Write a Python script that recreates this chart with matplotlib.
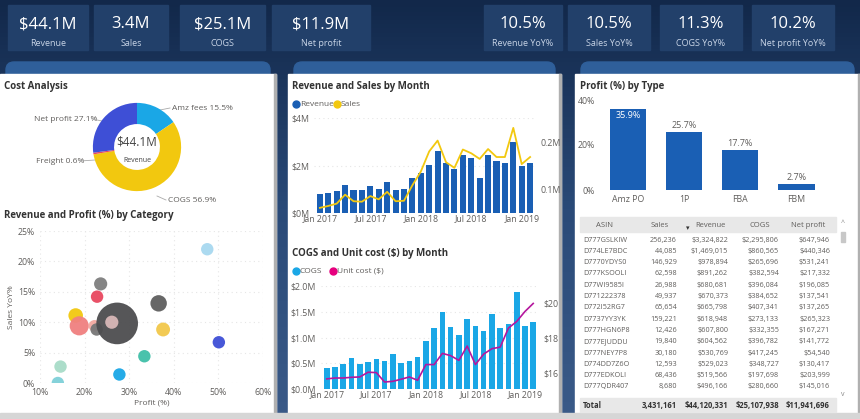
import matplotlib
matplotlib.use("Agg")
import matplotlib.pyplot as plt
import numpy as np
from matplotlib.patches import FancyBboxPatch, Rectangle

plt.rcParams["font.family"] = ["Open Sans", "DejaVu Sans"]

W, H = 860, 419

# ---- data ----
kpi_left = [("$44.1M", "Revenue"), ("3.4M", "Sales"), ("$25.1M", "COGS"), ("$11.9M", "Net profit")]
kpi_right = [("10.5%", "Revenue YoY%"), ("10.5%", "Sales YoY%"), ("11.3%", "COGS YoY%"), ("10.2%", "Net profit YoY%")]

cost_labels = ["Amz fees 15.5%", "COGS 56.9%", "Freight 0.6%", "Net profit 27.1%"]
cost_share = [15.5, 56.9, 0.6, 27.1]
cost_colors = ["#1aa7e6", "#f2c80f", "#e8475f", "#3e4fd6"]

bub_profit = [47.5, 23.6, 22.8, 36.6, 18.0, 18.8, 22.2, 22.7, 27.3, 26.1, 37.6, 50.1, 33.4, 14.6, 27.8, 14.0]
bub_yoy = [22.0, 16.3, 14.2, 13.1, 11.1, 9.4, 9.4, 8.8, 9.8, 10.0, 8.8, 6.7, 4.4, 2.7, 1.4, 0.0]
bub_size = [80, 90, 80, 140, 110, 190, 70, 80, 900, 90, 100, 80, 80, 80, 80, 80]
bub_colors = ["#a8d8f0", "#7f7f7f", "#e8475f", "#5f5f5f", "#f2c80f", "#f08080", "#f4a9a0", "#777777",
              "#4d4d4f", "#d9b8b8", "#f2c84b", "#3e4fd6", "#3fbfa8", "#a8dcc8", "#1aa7e6", "#7fd0d8"]

revenue_m = [0.79, 0.83, 0.93, 1.17, 0.95, 0.95, 1.12, 1.03, 1.29, 0.95, 0.99, 1.48, 1.70,
             2.04, 2.60, 2.11, 1.84, 2.45, 2.32, 1.47, 2.45, 2.21, 2.11, 3.00, 1.96, 2.11]
sales_k = [61, 65, 70, 89, 75, 74, 86, 79, 95, 75, 76, 109, 138,
           181, 204, 158, 146, 185, 177, 165, 186, 169, 169, 231, 154, 169]
cogs_m = [0.41, 0.43, 0.48, 0.61, 0.49, 0.52, 0.59, 0.55, 0.67, 0.50, 0.55, 0.63, 0.94,
          1.19, 1.50, 1.21, 1.05, 1.36, 1.22, 1.13, 1.46, 1.18, 1.27, 1.89, 1.22, 1.31]
unit_cost = [15.68, 15.73, 15.73, 15.77, 15.79, 16.06, 16.04, 15.50, 15.54, 15.66, 15.79, 15.60, 16.50,
             16.50, 17.14, 17.01, 16.74, 17.56, 16.50, 17.10, 17.41, 17.50, 18.59, 18.97, 19.54, 20.00]
month_ticks = [0, 6, 12, 18, 24]
month_labels = ["Jan 2017", "Jul 2017", "Jan 2018", "Jul 2018", "Jan 2019"]

types = ["Amz PO", "1P", "FBA", "FBM"]
type_profit = [35.9, 25.7, 17.7, 2.7]

tbl_cols = ["ASIN", "Sales", "Revenue", "COGS", "Net profit"]
tbl_rows = [
    ["D777GSLKIW", "256,236", "$3,324,822", "$2,295,806", "$647,946"],
    ["D774LE7BDC", "44,085", "$1,469,015", "$860,565", "$440,346"],
    ["D7770YDYS0", "146,929", "$978,894", "$265,696", "$531,241"],
    ["D777KSOOLI", "62,598", "$891,262", "$382,594", "$217,332"],
    ["D77WI9585I", "26,988", "$680,681", "$396,084", "$196,085"],
    ["D771222378", "49,937", "$670,373", "$384,652", "$137,541"],
    ["D772I52RG7", "65,654", "$665,798", "$407,341", "$137,265"],
    ["D7737YY3YK", "159,221", "$618,948", "$273,133", "$265,323"],
    ["D777HGN6P8", "12,426", "$607,800", "$332,355", "$167,271"],
    ["D777EJUDDU", "19,840", "$604,562", "$396,782", "$141,772"],
    ["D777NEY7P8", "30,180", "$530,769", "$417,245", "$54,540"],
    ["D774DD7Z6O", "12,593", "$529,023", "$348,727", "$130,417"],
    ["D777EDKOLI", "68,436", "$519,566", "$197,698", "$203,999"],
    ["D777QDR407", "8,680", "$496,166", "$280,660", "$145,016"],
]
tbl_total = ["Total", "3,431,161", "$44,120,331", "$25,107,938", "$11,941,696"]

TXT = "#605e5c"


def px_axes(fig, x, y, w, h, **kw):
    return fig.add_axes([x / W, 1 - (y + h) / H, w / W, h / H], **kw)


def clean(ax):
    for s in ax.spines.values():
        s.set_visible(False)
    ax.tick_params(length=0, labelsize=6.3, colors=TXT)


fig = plt.figure(figsize=(8.6, 4.19), dpi=100, facecolor="#1d3961")
bg = px_axes(fig, 0, 0, W, H)
bg.set_xlim(0, W)
bg.set_ylim(H, 0)
bg.axis("off")

# background gradient
grad = np.linspace(0, 1, 100).reshape(-1, 1)
bg.imshow(grad, extent=[0, W, H, 0], cmap=matplotlib.colors.LinearSegmentedColormap.from_list(
    "g", ["#12284a", "#2a4a78", "#3a5a88"]), aspect="auto", zorder=0)

# KPI tiles
for (x0, w), (val, lab) in zip([(8, 80), (94, 74), (180, 85), (272, 98)], kpi_left):
    bg.add_patch(Rectangle((x0, 5), w, 45, color="#22406a", zorder=1))
    bg.text(x0 + w / 2, 24, val, color="white", fontsize=12, ha="center", va="center", zorder=2)
    bg.text(x0 + w / 2, 44, lab, color="#c8d4e6", fontsize=6.5, ha="center", va="center", zorder=2)
for (x0, w), (val, lab) in zip([(484, 78), (568, 82), (660, 82), (752, 82)], kpi_right):
    bg.add_patch(Rectangle((x0, 5), w, 45, color="#22406a", zorder=1))
    bg.text(x0 + w / 2, 24, val, color="white", fontsize=12, ha="center", va="center", zorder=2)
    bg.text(x0 + w / 2, 44, lab, color="#c8d4e6", fontsize=6.5, ha="center", va="center", zorder=2)

# panels
for x0, w in [(0, 276), (288, 273), (575, 285)]:
    bg.add_patch(FancyBboxPatch((x0 + 6, 62), w - 12, 20, boxstyle="round,pad=0,rounding_size=8",
                                color="#2f5f9a", zorder=1))
    bg.add_patch(Rectangle((x0, 74), w, H - 74, color="white", zorder=2))
    bg.add_patch(Rectangle((x0 + w - 2, 74), 2, H - 74, color="#b0b0b0", zorder=2))
bg.add_patch(Rectangle((0, 413), W, 6, color="#d6d6d6", zorder=3))

bg.text(4, 86, "Cost Analysis", fontsize=7, fontweight="bold", color="#333", va="center", zorder=3)
bg.text(4, 215, "Revenue and Profit (%) by Category", fontsize=7, fontweight="bold", color="#333", va="center", zorder=3)
bg.text(292, 86, "Revenue and Sales by Month", fontsize=7, fontweight="bold", color="#333", va="center", zorder=3)
bg.text(292, 253, "COGS and Unit cost ($) by Month", fontsize=7, fontweight="bold", color="#333", va="center", zorder=3)
bg.text(580, 86, "Profit (%) by Type", fontsize=7, fontweight="bold", color="#333", va="center", zorder=3)

# legends
bg.plot([296], [104], "o", color="#1a5fb4", ms=5, zorder=3)
bg.text(300, 104, "Revenue", fontsize=6, color=TXT, va="center", zorder=3)
bg.plot([337], [104], "o", color="#f2c80f", ms=5, zorder=3)
bg.text(341, 104, "Sales", fontsize=6, color=TXT, va="center", zorder=3)
bg.plot([296], [271], "o", color="#1aa7e6", ms=5, zorder=3)
bg.text(300, 271, "COGS", fontsize=6, color=TXT, va="center", zorder=3)
bg.plot([333], [271], "o", color="#e6007e", ms=5, zorder=3)
bg.text(337, 271, "Unit cost ($)", fontsize=6, color=TXT, va="center", zorder=3)

# ---- donut ----
ax = px_axes(fig, 92, 102, 90, 90)
ax.pie(cost_share, colors=cost_colors, startangle=90, counterclock=False,
       wedgeprops=dict(width=0.48, edgecolor="none"))
ax.set_aspect("equal")
ax.set_xlim(-1.02, 1.02)
ax.set_ylim(-1.02, 1.02)
ax.text(0, 0.12, "$44.1M", ha="center", va="center", fontsize=8.5, color="#444")
ax.text(0, -0.3, "Revenue", ha="center", va="center", fontsize=5, color="#444")
bg.text(172, 108, cost_labels[0], fontsize=6, color=TXT, va="center", zorder=3)
bg.plot([160, 170], [110, 108], color="#aaa", lw=0.6, zorder=3)
bg.text(168, 200, cost_labels[1], fontsize=6, color=TXT, va="center", zorder=3)
bg.plot([157, 166], [196, 200], color="#aaa", lw=0.6, zorder=3)
bg.text(36, 161, cost_labels[2], fontsize=6, color=TXT, va="center", zorder=3)
bg.plot([80, 95], [161, 160], color="#aaa", lw=0.6, zorder=3)
bg.text(34, 119, cost_labels[3], fontsize=6, color=TXT, va="center", zorder=3)
bg.plot([92, 102], [119, 121], color="#aaa", lw=0.6, zorder=3)

# ---- scatter ----
ax = px_axes(fig, 40, 231, 223, 152)
clean(ax)
ax.scatter(bub_profit, bub_yoy, s=bub_size, c=bub_colors, edgecolors="none", alpha=0.95)
ax.set_xlim(10, 60)
ax.set_ylim(0, 25)
ax.set_xticks(range(10, 61, 10))
ax.set_xticklabels([f"{v}%" for v in range(10, 61, 10)])
ax.set_yticks(range(0, 26, 5))
ax.set_yticklabels([f"{v}%" for v in range(0, 26, 5)])
ax.grid(True, color="#e6e6e6", linestyle=(0, (1, 3)), lw=0.8)
ax.set_axisbelow(True)
ax.set_xlabel("Profit (%)", fontsize=6, color=TXT, labelpad=2)
ax.set_ylabel("Sales YoY%", fontsize=6, color=TXT, labelpad=2)

# ---- revenue / sales ----
n = len(revenue_m)
xs = np.arange(n)
ax = px_axes(fig, 314, 118, 222, 95)
clean(ax)
ax.bar(xs, revenue_m, width=0.72, color="#1a5fb4")
ax.set_ylim(0, 4)
ax.set_xlim(-0.7, n - 0.3)
ax.set_yticks([0, 2, 4])
ax.set_yticklabels(["$0M", "$2M", "$4M"])
ax.set_xticks(month_ticks)
ax.set_xticklabels(month_labels)
ax.tick_params(axis="x", pad=1)
ax.grid(axis="y", color="#e6e6e6", linestyle=(0, (1, 3)))
ax.set_axisbelow(True)
ax2 = ax.twinx()
clean(ax2)
ax2.plot(xs, sales_k, color="#f2c80f", lw=1.3)
ax2.set_ylim(50, 252)
ax2.set_yticks([100, 200])
ax2.set_yticklabels(["0.1M", "0.2M"])

# ---- COGS / unit cost ----
ax = px_axes(fig, 321, 286, 218, 103)
clean(ax)
ax.bar(xs, cogs_m, width=0.68, color="#1aa7e6")
ax.set_ylim(0, 2)
ax.set_xlim(-0.7, n - 0.3)
ax.set_yticks([0, 0.5, 1, 1.5, 2])
ax.set_yticklabels(["$0.0M", "$0.5M", "$1.0M", "$1.5M", "$2.0M"])
ax.set_xticks(month_ticks)
ax.set_xticklabels(month_labels)
ax.tick_params(axis="x", pad=1)
ax.grid(axis="y", color="#e6e6e6", linestyle=(0, (1, 3)))
ax.set_axisbelow(True)
ax2 = ax.twinx()
clean(ax2)
ax2.plot(xs, unit_cost, color="#b5179e", lw=1.2)
ax2.set_ylim(15.1, 21.0)
ax2.set_yticks([16, 18, 20])
ax2.set_yticklabels(["$16", "$18", "$20"])

# ---- profit by type ----
ax = px_axes(fig, 600, 100, 230, 90)
clean(ax)
tx = np.arange(len(types))
ax.bar(tx, type_profit, width=0.65, color="#1a5fb4")
ax.set_ylim(0, 40)
ax.set_xlim(-0.5, 3.6)
ax.set_yticks([0, 20, 40])
ax.set_yticklabels(["0%", "20%", "40%"])
ax.set_xticks(tx)
ax.set_xticklabels(types)
for i, v in enumerate(type_profit):
    if i == 0:
        ax.text(i, v - 3, f"{v}%", ha="center", va="center", fontsize=6.5, color="white")
    else:
        ax.text(i, v + 3, f"{v}%", ha="center", va="center", fontsize=6.5, color=TXT)
bg.text(806, 108, "27.1%", fontsize=10, color="#333", ha="center", va="center", zorder=3)
bg.text(806, 125, "Profit (%)", fontsize=5.5, color=TXT, ha="center", va="center", zorder=3)

# ---- table ----
col_x = [583, 677, 728, 779, 830]
bg.add_patch(Rectangle((580, 217), 256, 15, color="#e8e8e8", zorder=3))
for j, c in enumerate(tbl_cols):
    cx = [605, 660, 710, 760, 808][j]
    bg.text(cx, 225, c, fontsize=5.5, color=TXT, ha="center", va="center", zorder=4)
bg.text(688, 229, "\u25be", fontsize=5, color="#333", ha="center", va="center", zorder=4)
for i, row in enumerate(tbl_rows):
    y = 240 + i * 11.3
    for j, cell in enumerate(row):
        bg.text(col_x[j], y, cell, fontsize=5.2, color=TXT, ha="left" if j == 0 else "right",
                va="center", zorder=4)
bg.add_patch(Rectangle((580, 398), 256, 14, color="#e8e8e8", zorder=3))
for j, cell in enumerate(tbl_total):
    bg.text(col_x[j], 405, cell, fontsize=5.5, fontweight="bold", color="#333",
            ha="left" if j == 0 else "right", va="center", zorder=4)
bg.add_patch(Rectangle((841, 232), 4, 10, color="#c8c8c8", zorder=4))
bg.text(843, 223, "^", fontsize=5, color="#888", ha="center", va="center", zorder=4)
bg.text(843, 394, "v", fontsize=5, color="#888", ha="center", va="center", zorder=4)

fig.savefig("out.png", dpi=100, facecolor=fig.get_facecolor())
